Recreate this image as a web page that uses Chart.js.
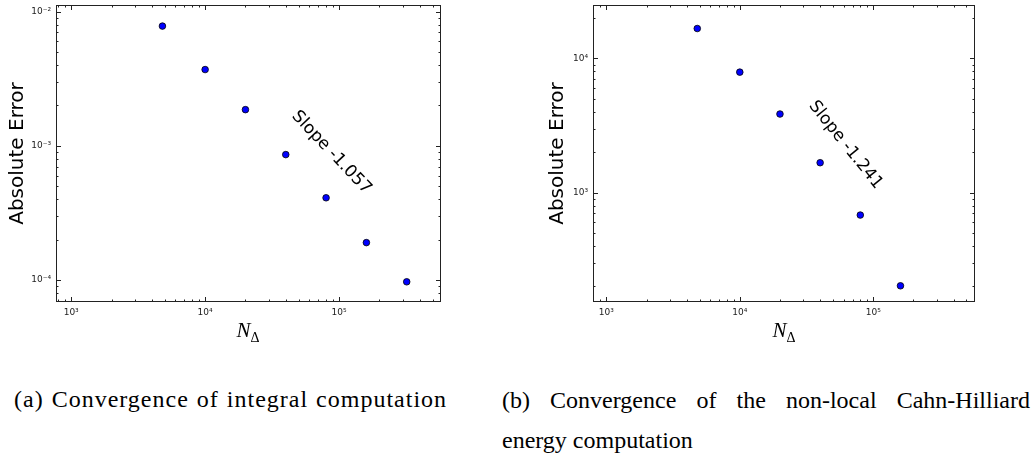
<!DOCTYPE html>
<html>
<head>
<meta charset="utf-8">
<script src="https://cdn.jsdelivr.net/npm/chart.js@4.4.1/dist/chart.umd.min.js"></script>
<style>
  body { margin: 0; background: #fff; }
  #page { position: relative; width: 1031px; height: 455px; overflow: hidden; }
  .plot { position: absolute; top: 0; height: 320px; }
  .xlabel {
    position: absolute; top: 318px; width: 100px; margin-left: -50px;
    text-align: center; font-family: "Liberation Serif", serif;
    font-style: italic; font-size: 21px; color: #000;
  }
  .xlabel sub { font-style: normal; font-size: 14px; }
  .caption {
    position: absolute; font-family: "Liberation Serif", serif;
    font-size: 24px; line-height: 40px; color: #000;
  }
</style>
</head>
<body>
<div id="page">
  <div class="plot" style="left:0; width:470px;"><canvas id="chart-a"></canvas></div>
  <div class="plot" style="left:540px; width:491px;"><canvas id="chart-b"></canvas></div>
  <div class="xlabel" style="left:248px;">N<sub>Δ</sub></div>
  <div class="xlabel" style="left:784px;">N<sub>Δ</sub></div>
  <div class="caption" style="left:14px; top:379px; white-space:nowrap; letter-spacing:1px; word-spacing:1px;">(a) Convergence of integral computation</div>
  <div class="caption" style="left:502px; top:380px; width:528px; text-align:justify;">(b) Convergence of the non-local Cahn-Hilliard energy computation</div>
</div>

<script>
// =========================
// DATA
// =========================

const integralN = [4800, 10000, 20000, 40000, 80000, 160000, 320000];
const integralError = [7.8e-3, 3.7e-3, 1.86e-3, 8.6e-4, 4.1e-4, 1.9e-4, 9.7e-5];

const energyN = [4800, 10000, 20000, 40000, 80000, 160000];
const energyError = [16700, 7900, 3850, 1670, 680, 202];

const integralSlope = -1.057;
const energySlope = -1.241;

// label anchors in data coords
const integralSlopeAt = [87700, 8.9e-4];
const energySlopeAt = [62100, 2265];


// =========================
// HELPERS
// =========================

const SUP = { "0": "⁰", "1": "¹", "2": "²", "3": "³", "4": "⁴", "5": "⁵", "6": "⁶", "7": "⁷", "8": "⁸", "9": "⁹", "-": "⁻" };

function isPow10(v) {
  const e = Math.log10(v);
  return Math.abs(e - Math.round(e)) < 1e-9;
}

function powLabel(value) {
  if (!isPow10(value)) return "";
  return "10" + String(Math.round(Math.log10(value))).split("").map(c => SUP[c]).join("");
}

function logTickValues(min, max) {
  const out = [];
  for (let n = Math.floor(Math.log10(min)); n <= Math.ceil(Math.log10(max)); n++) {
    for (let k = 1; k <= 9; k++) {
      const v = k * Math.pow(10, n);
      if (v > min && v < max) out.push({ v, major: k === 1 });
    }
  }
  return out;
}

// matplotlib-style frame with inward ticks on all four sides + the slope text
const frameTicks = {
  id: "frameTicks",
  afterDraw(chart, args, opts) {
    const { ctx, chartArea: a } = chart;
    const xs = chart.scales.x, ys = chart.scales.y;
    ctx.save();
    ctx.strokeStyle = "#222";
    ctx.lineWidth = 1;
    ctx.strokeRect(a.left + 0.5, a.top + 0.5, a.right - a.left - 1, a.bottom - a.top - 1);

    ctx.beginPath();
    logTickValues(xs.min, xs.max).forEach(t => {
      const x = Math.round(xs.getPixelForValue(t.v)) + 0.5;
      const len = t.major ? 5 : 2.5;
      ctx.moveTo(x, a.bottom); ctx.lineTo(x, a.bottom - len);
      ctx.moveTo(x, a.top); ctx.lineTo(x, a.top + len);
    });
    logTickValues(ys.min, ys.max).forEach(t => {
      const y = Math.round(ys.getPixelForValue(t.v)) + 0.5;
      const len = t.major ? 5 : 2.5;
      ctx.moveTo(a.left, y); ctx.lineTo(a.left + len, y);
      ctx.moveTo(a.right, y); ctx.lineTo(a.right - len, y);
    });
    ctx.stroke();

    // slope annotation, rotated along the fitted line
    const [ax, ay] = opts.at;
    const px0 = xs.getPixelForValue(ax), py0 = ys.getPixelForValue(ay);
    const px1 = xs.getPixelForValue(ax * 10), py1 = ys.getPixelForValue(ay * Math.pow(10, opts.slope));
    ctx.translate(px0, py0);
    ctx.rotate(Math.atan2(py1 - py0, px1 - px0));
    ctx.fillStyle = "#000";
    ctx.font = "17px 'DejaVu Sans'";
    ctx.textAlign = "center";
    ctx.textBaseline = "middle";
    ctx.fillText("Slope " + opts.slope.toFixed(3), 0, 0);
    ctx.restore();
  }
};


// =========================
// RENDER CHARTS
// =========================

function makeChart(id, xs, ys, limits, slope, slopeAt, padTop, padRight, yWidth) {
  new Chart(document.getElementById(id), {
    type: "scatter",
    data: {
      datasets: [{
        data: xs.map((x, i) => ({ x, y: ys[i] })),
        backgroundColor: "#0000ff",
        borderColor: "#000",
        borderWidth: 0.8,
        pointRadius: 3.3
      }]
    },
    options: {
      responsive: true,
      maintainAspectRatio: false,
      animation: false,
      layout: { padding: { top: padTop, right: padRight, left: 0, bottom: 0 } },
      plugins: {
        legend: { display: false },
        tooltip: { enabled: false },
        frameTicks: { slope, at: slopeAt }
      },
      scales: {
        x: {
          type: "logarithmic",
          min: limits.xMin,
          max: limits.xMax,
          grid: { display: false, drawTicks: false },
          border: { display: false },
          ticks: {
            autoSkip: false, maxRotation: 0, padding: 5,
            color: "#222", font: { family: "DejaVu Sans", size: 9 },
            callback: v => powLabel(v)
          },
          afterBuildTicks: s => { s.ticks = s.ticks.filter(t => isPow10(t.value)); },
          afterFit: s => { s.height = 18; s.paddingLeft = 0; s.paddingRight = 0; }
        },
        y: {
          type: "logarithmic",
          min: limits.yMin,
          max: limits.yMax,
          grid: { display: false, drawTicks: false },
          border: { display: false },
          title: {
            display: true, text: "Absolute Error", color: "#000",
            font: { family: "DejaVu Sans", size: 20 },
            padding: { top: 6, bottom: 0 }
          },
          ticks: {
            autoSkip: false, padding: 5,
            color: "#222", font: { family: "DejaVu Sans", size: 9 },
            callback: v => powLabel(v)
          },
          afterBuildTicks: s => { s.ticks = s.ticks.filter(t => isPow10(t.value)); },
          afterFit: s => { s.width = yWidth; s.paddingTop = 0; s.paddingBottom = 0; }
        }
      }
    },
    plugins: [frameTicks]
  });
}

makeChart("chart-a", integralN, integralError,
  { xMin: 770, xMax: 577000, yMin: 6.86e-5, yMax: 1.12e-2 },
  integralSlope, integralSlopeAt, 5, 29, 56);

makeChart("chart-b", energyN, energyError,
  { xMin: 794, xMax: 579000, yMin: 153, yMax: 25000 },
  energySlope, energySlopeAt, 5, 56, 53);
</script>
</body>
</html>
